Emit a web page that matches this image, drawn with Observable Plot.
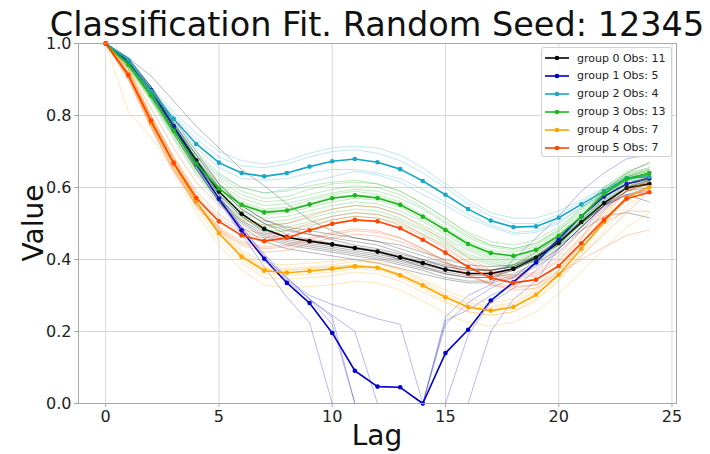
<!DOCTYPE html>
<html><head><meta charset="utf-8">
<script src="https://cdn.jsdelivr.net/npm/d3@7"></script>
<script src="https://cdn.jsdelivr.net/npm/@observablehq/plot@0.6"></script>
<style>
body{margin:0;background:#fff;font-family:"DejaVu Sans",sans-serif;}
#wrap{position:relative;width:710px;height:454px;}
#legend{position:absolute;left:541px;top:47px;width:131px;height:110px;border:1px solid #d0d0d0;border-radius:3px;background:rgba(255,255,255,0.85);box-sizing:border-box;}
.row{position:absolute;left:0;height:16px;display:flex;align-items:center;font-size:11px;color:#222;white-space:nowrap;}
.row svg{margin-left:3px;margin-right:8px;}
</style></head><body><div id="wrap"><div id="legend"></div></div>
<script>
const title = "Classification Fit. Random Seed: 12345";
const xLabel = "Lag";
const yLabel = "Value";
const lags = [0,1,2,3,4,5,6,7,8,9,10,11,12,13,14,15,16,17,18,19,20,21,22,23,24];
const xTicks = [0,5,10,15,20,25];
const yTicks = [0,0.2,0.4,0.6,0.8,1.0];
const groupNames = ["group 0","group 1","group 2","group 3","group 4","group 5"];
const groupObs = [11,5,4,13,7,7];
const groupColors = ["#000000","#0000cd","#18a8c8","#1cb81c","#ffa500","#ff4500"];

// group mean lines
const mean0 = [1,.95,.87,.77,.675,.589,.527,.485,.462,.451,.442,.432,.422,.406,.390,.372,.361,.361,.374,.405,.446,.504,.557,.599,.610];
const mean1 = [1,.95,.87,.769,.665,.569,.481,.402,.335,.279,.196,.091,.047,.045,0,.140,.205,.286,.337,.392,.457,.52,.575,.61,.625];
const mean2 = [1,.955,.868,.791,.721,.669,.640,.631,.640,.658,.673,.679,.670,.651,.618,.580,.540,.508,.490,.492,.516,.553,.590,.626,.630];
const mean3 = [1,.941,.856,.758,.666,.597,.552,.531,.536,.553,.570,.578,.571,.552,.519,.482,.443,.418,.410,.427,.466,.519,.582,.624,.640];
const mean4 = [1,.91,.78,.665,.561,.473,.408,.369,.363,.368,.374,.381,.377,.356,.328,.295,.268,.258,.268,.302,.358,.430,.504,.573,.601];
const mean5 = [1,.913,.786,.669,.571,.506,.467,.451,.460,.481,.499,.510,.506,.487,.455,.419,.379,.349,.335,.344,.382,.445,.510,.569,.587];

// individual observations
const runs0 = [
 [1,.96,.91,.84,.77,.71,.65,.605,.555,.51,.48,.46,.45,.43,.41,.39,.375,.37,.38,.41,.45,.50,.55,.59,.60],
 [1,.95,.87,.77,.67,.58,.52,.48,.46,.45,.44,.43,.42,.40,.38,.36,.35,.35,.37,.40,.45,.51,.57,.62,.64],
 [1,.95,.88,.78,.69,.60,.54,.50,.48,.47,.46,.45,.44,.42,.40,.38,.37,.37,.38,.41,.45,.50,.55,.58,.56],
 [1,.94,.86,.76,.66,.57,.51,.47,.45,.44,.43,.42,.41,.395,.38,.365,.355,.355,.37,.40,.44,.50,.55,.59,.62],
 [1,.95,.86,.75,.65,.56,.50,.46,.44,.43,.42,.41,.40,.385,.37,.35,.34,.34,.355,.385,.43,.49,.55,.60,.63],
 [1,.96,.88,.79,.70,.61,.55,.51,.49,.48,.47,.46,.45,.44,.42,.40,.385,.38,.385,.41,.44,.48,.52,.53,.516],
 [1,.95,.87,.77,.68,.60,.54,.50,.47,.455,.445,.435,.425,.41,.395,.38,.37,.37,.385,.42,.46,.52,.58,.63,.65],
 [1,.94,.85,.75,.65,.56,.49,.45,.43,.42,.41,.40,.39,.375,.36,.345,.335,.335,.35,.38,.42,.48,.54,.59,.61],
 [1,.95,.87,.77,.67,.58,.52,.475,.455,.445,.435,.425,.415,.40,.385,.37,.36,.36,.375,.41,.455,.52,.58,.625,.635],
 [1,.95,.87,.76,.66,.57,.505,.465,.445,.435,.425,.415,.405,.39,.375,.36,.35,.35,.36,.39,.43,.49,.55,.60,.62],
 [1,.96,.88,.78,.69,.61,.55,.51,.485,.47,.455,.44,.43,.415,.40,.385,.375,.37,.38,.405,.45,.52,.59,.64,.67]
];
const runs1 = [
 [1,.955,.88,.78,.68,.58,.49,.41,.345,.30,.275,.255,.235,.22,0,.24,.30,.33,.40,.46,.52,.59,.64,.68,.69],
 [1,.945,.86,.76,.655,.56,.47,.38,.295,.225,0,0,0,0,0,.22,.28,.32,.35,.40,.46,.52,.575,.61,.63],
 [1,.95,.87,.77,.665,.57,.48,.40,.34,.29,.24,0,0,0,0,.23,.26,.30,.33,.39,.45,.51,.565,.60,.62],
 [1,.95,.875,.775,.67,.57,.49,.415,.35,.29,.245,.20,0,0,0,0,.19,.28,.32,.37,.43,.49,.545,.58,.60],
 [1,.95,.865,.76,.655,.565,.475,.405,.35,.29,.22,0,0,0,0,0,0,.20,.29,.34,.43,.49,.55,.58,.59]
];
const runs2 = [
 [1,.96,.88,.81,.75,.70,.675,.665,.675,.695,.71,.715,.71,.69,.655,.61,.565,.53,.515,.515,.535,.565,.60,.63,.635],
 [1,.96,.875,.80,.735,.685,.66,.655,.665,.685,.70,.705,.695,.675,.64,.60,.555,.52,.50,.50,.525,.56,.595,.63,.635],
 [1,.955,.865,.785,.71,.655,.625,.62,.625,.64,.65,.65,.64,.625,.595,.56,.525,.495,.475,.48,.505,.545,.585,.625,.63],
 [1,.945,.85,.77,.69,.635,.60,.585,.595,.615,.63,.645,.635,.615,.58,.55,.515,.49,.47,.475,.50,.545,.58,.62,.62]
];
const runs3 = [
 [1,.95,.87,.78,.70,.64,.60,.585,.59,.605,.615,.62,.61,.59,.555,.515,.475,.45,.44,.455,.49,.54,.60,.645,.665],
 [1,.95,.87,.775,.69,.63,.59,.57,.575,.595,.61,.615,.61,.59,.555,.515,.47,.44,.43,.445,.485,.54,.60,.64,.655],
 [1,.945,.865,.77,.685,.62,.58,.56,.565,.58,.595,.605,.60,.58,.545,.505,.465,.44,.43,.445,.48,.53,.59,.635,.655],
 [1,.945,.86,.765,.675,.61,.57,.55,.555,.57,.585,.595,.59,.57,.54,.50,.46,.435,.425,.44,.48,.535,.595,.635,.65],
 [1,.94,.86,.76,.67,.605,.56,.54,.545,.565,.58,.59,.58,.56,.525,.49,.45,.425,.42,.435,.475,.525,.59,.63,.645],
 [1,.94,.855,.76,.67,.60,.555,.535,.54,.555,.575,.58,.575,.555,.52,.485,.445,.42,.41,.43,.47,.52,.585,.63,.645],
 [1,.94,.855,.755,.665,.595,.55,.53,.535,.55,.57,.575,.57,.55,.52,.48,.44,.415,.405,.425,.465,.52,.585,.625,.64],
 [1,.94,.855,.755,.66,.59,.545,.525,.53,.545,.56,.57,.565,.545,.51,.475,.435,.41,.40,.42,.46,.515,.58,.62,.635],
 [1,.94,.85,.75,.655,.585,.535,.515,.52,.535,.55,.56,.555,.535,.505,.47,.43,.405,.395,.415,.455,.51,.575,.62,.635],
 [1,.935,.85,.75,.65,.58,.53,.505,.51,.525,.54,.55,.545,.525,.495,.46,.425,.40,.39,.41,.45,.505,.57,.615,.63],
 [1,.935,.845,.745,.645,.57,.52,.495,.50,.515,.53,.54,.535,.515,.485,.455,.415,.395,.385,.405,.445,.50,.565,.61,.625],
 [1,.935,.845,.74,.64,.565,.515,.49,.49,.505,.52,.53,.525,.51,.48,.445,.41,.39,.38,.40,.44,.50,.565,.605,.62],
 [1,.93,.84,.735,.635,.555,.505,.48,.48,.495,.51,.52,.515,.50,.47,.44,.405,.385,.38,.395,.435,.495,.56,.60,.615]
];
const runs4 = [
 [1,.81,.74,.65,.55,.47,.41,.375,.37,.375,.38,.385,.38,.36,.335,.30,.275,.265,.275,.31,.37,.44,.52,.59,.62],
 [1,.93,.80,.685,.58,.49,.425,.39,.385,.39,.395,.40,.395,.375,.345,.315,.29,.28,.29,.325,.385,.46,.535,.60,.625],
 [1,.93,.80,.68,.575,.485,.42,.38,.375,.38,.385,.395,.39,.37,.34,.305,.28,.27,.28,.315,.37,.445,.52,.59,.615],
 [1,.93,.79,.675,.57,.48,.415,.375,.37,.375,.38,.385,.38,.36,.33,.295,.265,.255,.265,.30,.355,.43,.505,.575,.60],
 [1,.92,.79,.665,.56,.47,.40,.36,.355,.36,.365,.375,.37,.35,.32,.285,.255,.245,.255,.29,.345,.42,.495,.565,.595],
 [1,.92,.78,.655,.545,.455,.39,.35,.345,.35,.355,.365,.36,.34,.31,.28,.255,.245,.255,.285,.34,.41,.48,.55,.59],
 [1,.91,.77,.64,.53,.44,.37,.33,.32,.325,.33,.34,.335,.315,.285,.25,.225,.215,.225,.255,.305,.365,.43,.49,.53]
];
const runs5 = [
 [1,.93,.82,.71,.615,.55,.51,.495,.50,.52,.54,.55,.545,.525,.49,.45,.405,.37,.355,.365,.41,.48,.55,.61,.63],
 [1,.92,.80,.685,.59,.525,.485,.47,.48,.50,.52,.53,.525,.505,.47,.435,.395,.365,.35,.36,.40,.465,.535,.595,.615],
 [1,.92,.795,.68,.58,.515,.475,.46,.47,.49,.51,.52,.515,.495,.465,.43,.39,.36,.345,.355,.395,.46,.53,.59,.61],
 [1,.91,.785,.665,.57,.505,.465,.45,.46,.48,.50,.51,.505,.485,.455,.42,.38,.35,.335,.345,.385,.45,.515,.575,.595],
 [1,.91,.775,.655,.555,.49,.45,.435,.44,.46,.475,.485,.48,.46,.43,.395,.36,.33,.32,.33,.37,.435,.50,.535,.534],
 [1,.90,.77,.65,.55,.485,.445,.43,.435,.455,.47,.48,.475,.46,.43,.395,.355,.33,.315,.32,.355,.41,.47,.53,.59],
 [1,.90,.765,.645,.55,.48,.44,.42,.425,.445,.46,.47,.465,.45,.425,.39,.355,.335,.325,.33,.36,.40,.434,.467,.482]
];

const means = [mean0,mean1,mean2,mean3,mean4,mean5];
const runs = [runs0,runs1,runs2,runs3,runs4,runs5];

const marks = [
  Plot.gridX(xTicks, {stroke:"#d8d8d8", strokeOpacity:1, strokeWidth:1}),
  Plot.gridY(yTicks, {stroke:"#d8d8d8", strokeOpacity:1, strokeWidth:1})
];
runs.forEach((set, g) => {
  const rows = [];
  set.forEach((vals, i) => vals.forEach((v, k) => rows.push({lag: lags[k], value: v, id: i})));
  marks.push(Plot.line(rows, {x:"lag", y:"value", z:"id", stroke: groupColors[g], strokeOpacity:0.28, strokeWidth:1}));
  const m = means[g].map((v, k) => ({lag: lags[k], value: v}));
  marks.push(Plot.line(m, {x:"lag", y:"value", stroke: groupColors[g], strokeWidth:1.6}));
  marks.push(Plot.dot(m, {x:"lag", y:"value", r:2.3, fill: groupColors[g], stroke: "none"}));
});
marks.push(Plot.frame({stroke:"#a8a8a8"}));
marks.push(Plot.axisX(xTicks, {tickSize:4, tickPadding:3, label:null, stroke:"#a8a8a8"}));
marks.push(Plot.axisY(yTicks, {tickSize:4, tickPadding:3, label:null, tickFormat: d3.format(".1f"), stroke:"#a8a8a8"}));

const chart = Plot.plot({
  width: 710, height: 454,
  marginLeft: 78, marginRight: 34, marginTop: 43, marginBottom: 51,
  x: {domain: [-1.2, 25.2]},
  y: {domain: [0, 1]},
  style: {fontFamily: "DejaVu Sans, sans-serif", fontSize: "16px", color: "#222", background: "#fff", overflow: "visible"},
  marks
});
const svg = d3.select(chart);
svg.append("text").attr("x", 377).attr("y", 36).attr("text-anchor","middle")
  .attr("font-size", 33.5).attr("fill","#111").text(title);
svg.append("text").attr("x", 377).attr("y", 445).attr("text-anchor","middle")
  .attr("font-size", 28).attr("fill","#111").text(xLabel);
svg.append("text").attr("transform","translate(43,223) rotate(-90)").attr("text-anchor","middle")
  .attr("font-size", 28).attr("fill","#111").text(yLabel);
document.getElementById("wrap").prepend(chart);

const legend = document.getElementById("legend");
groupNames.forEach((name, g) => {
  const row = document.createElement("div");
  row.className = "row";
  row.style.top = (2 + g * 17.9) + "px";
  row.innerHTML = `<svg width="24" height="10"><line x1="0" y1="5" x2="24" y2="5" stroke="${groupColors[g]}" stroke-width="1.6"/><circle cx="12" cy="5" r="2.3" fill="${groupColors[g]}"/></svg><span>${name} Obs: ${groupObs[g]}</span>`;
  legend.appendChild(row);
});
</script></body></html>
